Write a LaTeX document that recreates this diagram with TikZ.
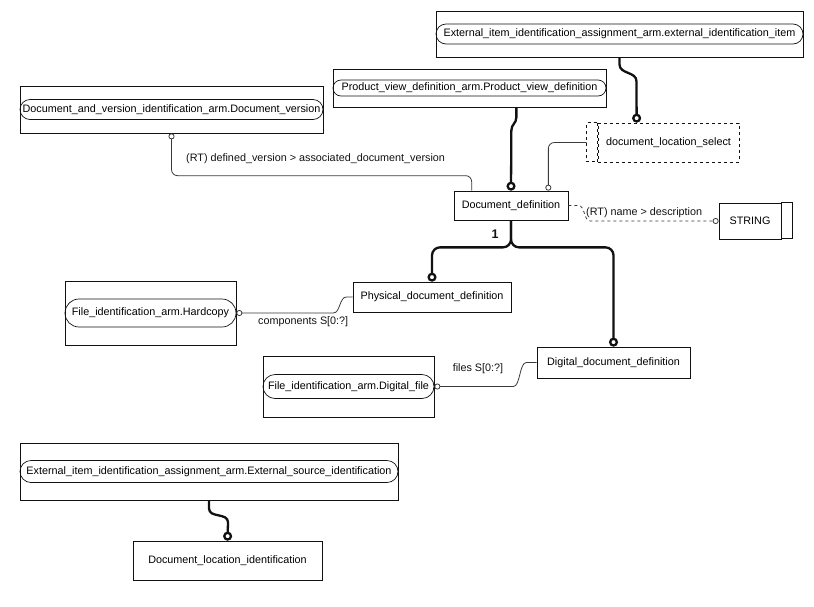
\documentclass[tikz,border=0pt]{standalone}
\usepackage{fontspec}
\setmainfont{Liberation Sans}
\usetikzlibrary{arrows.meta,calc,positioning,shapes.misc}
\definecolor{ink}{HTML}{111111}
\definecolor{wire}{HTML}{3A3A3A}

\begin{document}
\begin{tikzpicture}[x=1pt,y=-1pt,font=\fontsize{10.8}{12}\selectfont,
 entity/.style={draw=ink,line width=0.7pt,inner sep=0pt},
 pill/.style={draw=ink,line width=0.7pt,rounded rectangle,inner sep=0pt},
 selbox/.style={draw=ink,dashed,line width=0.7pt,inner sep=0pt},
 thickrel/.style={draw=ink,line width=2.3pt,-{Circle[open,length=9pt,width=9pt]}},
 thinrel/.style={draw=wire,line width=0.8pt},
 lbl/.style={inner sep=0pt,text=ink}]
\useasboundingbox (0,0) rectangle (814,606);
\foreach \nm/\cx/\cy/\w/\h/\ph/\txt in {eii/619.5/34/367/46/20/External\_item\_identification\_assignment\_arm.external\_identification\_item,pvd/469.5/88/273/38/16/Product\_view\_definition\_arm.Product\_view\_definition,dv/171.5/109.5/303/47/20/Document\_and\_version\_identification\_arm.Document\_version,hc/150.5/313/171/64/28/File\_identification\_arm.Hardcopy,df/348.5/386.5/171/61/24/File\_identification\_arm.Digital\_file,esi/209/471.5/378/57/22/External\_item\_identification\_assignment\_arm.External\_source\_identification} {
 \node[entity,minimum width=\w pt,minimum height=\h pt] (\nm) at (\cx,\cy) {};
 \node[pill,minimum width=\w pt,minimum height=\ph pt] (\nm-p) at (\cx,\cy) {\txt};}
\node[entity,minimum width=114pt,minimum height=29pt] (dd) at (511,205.5) {Document\_definition};
\node[entity,minimum width=158pt,minimum height=30pt] (pdd) at (432,297) {Physical\_document\_definition};
\node[entity,minimum width=153pt,minimum height=31pt] (ddd) at (613.5,362.5) {Digital\_document\_definition};
\node[entity,minimum width=189pt,minimum height=39pt] (dli) at (227.5,560.5) {Document\_location\_identification};
\node[entity,minimum width=62pt,minimum height=36pt] (str) at (750,221) {STRING};
\draw[ink,line width=0.7pt] (str.north east) rectangle ++(11,36);
\node[selbox,minimum width=141pt,minimum height=39pt] (dls) at (668.5,142.5) {document\_location\_select};
\draw[ink,dashed,line width=0.7pt] (dls.north west) rectangle ++(-11,39);
\coordinate (dlsin) at ($(dls.north west)+(39,0)$);
\coordinate (dlsout) at ($(dls.west)+(-11,0)$);
\coordinate (ddl) at ($(dd.north west)+(18,0)$);
\coordinate (ddr) at ($(dd.north east)+(-20,0)$);
\coordinate (pvdout) at ($(pvd.south east)+(-90,0)$);
\draw[thickrel] (eii.south) -- ++(0,7) .. controls +(0,10) and +(0,-10) .. ++(17,17) -- (dlsin);
\draw[thickrel] (pvdout) -- ++(0,10) .. controls +(0,6) and +(0,-6) .. ++(-5,13) -- (dd.north);
\draw[thinrel,-{Circle[open,length=6pt,width=6pt]},rounded corners=6] (dlsout) -| (ddr);
\draw[thinrel,{Circle[open,length=6pt,width=6pt]}-,rounded corners=6] (dv.south) |- ($(ddl)+(0,-15)$) -- (ddl);
\node[lbl,anchor=west] (dvlbl) at (186,159) {(RT) defined\_version > associated\_document\_version};
\draw[thinrel,dashed,-{Circle[open,length=6pt,width=6pt]}] (dd.east) -- ++(10,0) .. controls +(7,0) and +(-7,0) .. ++(12,15.5) -- (str.west);
\node[lbl,anchor=west] (strlbl) at (586,213) {(RT) name > description};
\draw[thickrel,rounded corners=8] (dd.south) -- ++(0,27) -| (pdd.north);
\draw[thickrel,rounded corners=8] (dd.south) -- ++(0,27) -| (ddd.north);
\node[lbl,font=\bfseries\fontsize{12.5}{14}\selectfont] (one) at (495,234) {1};
\draw[thinrel,{Circle[open,length=6pt,width=6pt]}-] (hc-p.east) -- ++(97,0) .. controls +(7,0) and +(-7,0) .. ++(13,-16) -- (pdd.west);
\node[lbl,anchor=west] (hclbl) at (258,322) {components S[0:?]};
\draw[thinrel,{Circle[open,length=6pt,width=6pt]}-] (df-p.east) -- ++(79,0) .. controls +(7,0) and +(-7,0) .. ++(13,-24) -- (ddd.west);
\node[lbl] (dflbl) at (478,369) {files S[0:?]};
\draw[thickrel] (esi.south) -- ++(0,8) .. controls +(0,10) and +(0,-10) .. ++(19,14) -- (dli.north);
\end{tikzpicture}
\end{document}
